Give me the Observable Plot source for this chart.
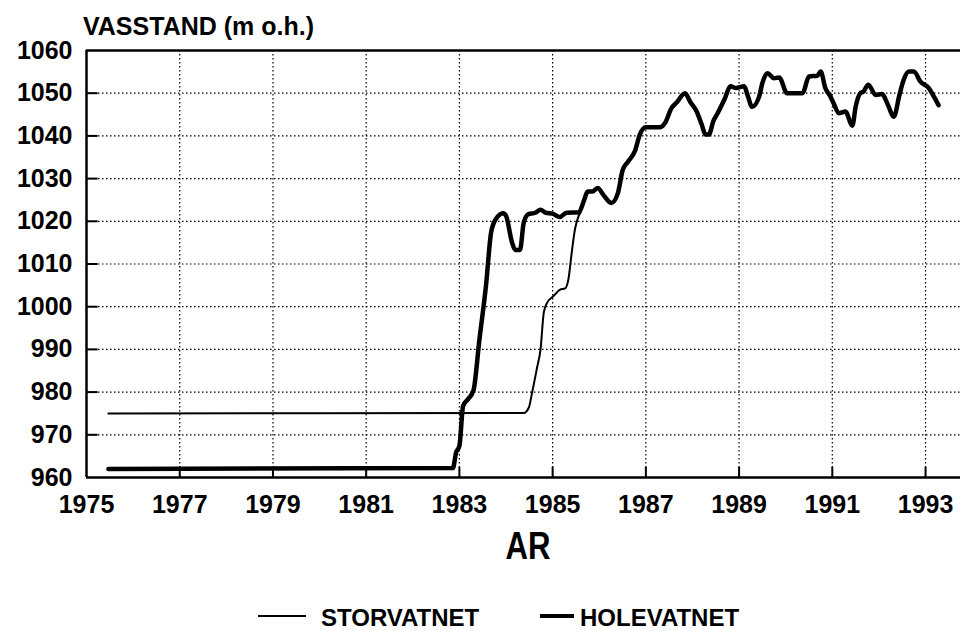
<!DOCTYPE html>
<html>
<head>
<meta charset="utf-8">
<script src="https://cdn.jsdelivr.net/npm/d3@7"></script>
<script src="https://cdn.jsdelivr.net/npm/@observablehq/plot@0.6"></script>
<style>
  html, body { margin: 0; padding: 0; background: #fff; }
  #wrap { position: relative; width: 960px; height: 631px; overflow: hidden; font-family: "Liberation Sans", Arial, sans-serif; font-weight: bold; color: #000; }
  #title { position: relative; height: 40px; }
  #title span { position: absolute; left: 83px; top: 14px; font-size: 25px; line-height: 1; white-space: nowrap; }
  #chart { height: 485px; }
  #xlabel { position: relative; height: 50px; }
  #xlabel span { position: absolute; left: 528px; top: 2px; font-size: 38px; line-height: 1; transform: translateX(-50%) scaleX(0.82); white-space: nowrap; }
  #legend { position: relative; height: 56px; }
  #legend .sw { position: absolute; background: #000; }
  #legend .lab { position: absolute; top: 34px; font-size: 24px; line-height: 18px; white-space: nowrap; }
</style>
</head>
<body>
<div id="wrap">
  <div id="title"><span id="titleText"></span></div>
  <div id="chart"></div>
  <div id="xlabel"><span id="xlabelText"></span></div>
  <div id="legend"></div>
</div>
<script>
// ---- Text ----
const titleText = "VASSTAND (m o.h.)";
const xLabelText = "AR";
const seriesNames = ["STORVATNET", "HOLEVATNET"];

// ---- Scales / ticks ----
const xDomain = [1975, 1993.75];
const yDomain = [960, 1060];
const xTickYears = [1975, 1977, 1979, 1981, 1983, 1985, 1987, 1989, 1991, 1993];
const xGridYears = [1977, 1979, 1981, 1983, 1985, 1987, 1989, 1991, 1993];
const yTickValues = [960, 970, 980, 990, 1000, 1010, 1020, 1030, 1040, 1050, 1060];
const yGridValues = [970, 980, 990, 1000, 1010, 1020, 1030, 1040, 1050];

// ---- Storvatnet (thin line) ----
const storYears  = [1975.47, 1984.38, 1984.49, 1984.56, 1984.66, 1984.74, 1984.81, 1984.88, 1985.02, 1985.16, 1985.27, 1985.34, 1985.41, 1985.48, 1985.56, 1985.6];
const storLevels = [975.0,   975.1,   976.4,   979.9,   985.4,   990.0,   998.6,   1000.9,  1002.5,  1004.0,  1004.3,  1006.5,  1012.7,  1018.2,  1021.3,  1022.1];

// ---- Holevatnet (thick line) ----
const holeYears = [1975.47, 1982.86, 1982.93, 1983.0, 1983.08, 1983.18, 1983.3, 1983.43, 1983.57, 1983.68, 1983.78, 1983.94, 1984.0, 1984.13, 1984.2, 1984.3, 1984.38, 1984.48, 1984.63, 1984.74, 1984.85, 1985.0, 1985.15, 1985.3, 1985.56, 1985.68, 1985.75, 1985.86, 1985.97, 1986.08, 1986.26, 1986.4, 1986.5, 1986.62, 1986.77, 1986.87, 1987.0, 1987.3, 1987.41, 1987.55, 1987.66, 1987.84, 1987.95, 1988.09, 1988.2, 1988.28, 1988.35, 1988.45, 1988.54, 1988.68, 1988.82, 1988.93, 1989.11, 1989.18, 1989.28, 1989.43, 1989.5, 1989.61, 1989.75, 1989.86, 1990.03, 1990.36, 1990.5, 1990.68, 1990.75, 1990.85, 1990.96, 1991.03, 1991.14, 1991.28, 1991.43, 1991.5, 1991.6, 1991.67, 1991.77, 1991.93, 1992.07, 1992.18, 1992.32, 1992.44, 1992.53, 1992.64, 1992.75, 1992.89, 1993.07, 1993.18, 1993.28];
const holeLevels = [962.0, 962.2, 965.9, 967.4, 976.8, 978.3, 980.3, 992.4, 1004.9, 1017.4, 1020.5, 1021.9, 1021.3, 1015.0, 1013.3, 1013.3, 1019.7, 1021.7, 1022.0, 1022.7, 1022.0, 1021.8, 1021.0, 1022.0, 1022.1, 1025.1, 1027.0, 1027.0, 1027.8, 1026.3, 1024.3, 1026.6, 1031.9, 1034.0, 1036.6, 1040.3, 1042.0, 1042.0, 1043.0, 1046.5, 1047.8, 1050.0, 1048.0, 1045.7, 1042.6, 1040.3, 1040.3, 1043.5, 1045.3, 1048.4, 1051.6, 1051.2, 1051.6, 1049.6, 1046.8, 1049.2, 1052.4, 1054.7, 1053.5, 1053.7, 1050.0, 1050.0, 1053.9, 1054.1, 1055.1, 1051.2, 1049.2, 1047.6, 1045.3, 1045.7, 1042.4, 1046.8, 1050.0, 1050.4, 1052.0, 1049.6, 1049.8, 1047.6, 1044.5, 1049.6, 1053.1, 1055.1, 1055.1, 1052.7, 1051.2, 1049.2, 1047.2];

const stor = storYears.map((year, i) => ({year, level: storLevels[i]}));
const hole = holeYears.map((year, i) => ({year, level: holeLevels[i]}));

document.getElementById("titleText").textContent = titleText;
document.getElementById("xlabelText").textContent = xLabelText;

const gridStyle = {stroke: "#000", strokeOpacity: 1, strokeWidth: 1.2, strokeDasharray: "1.5,2.5"};

const chart = Plot.plot({
  width: 960,
  height: 485,
  marginTop: 10,
  marginBottom: 48,
  marginLeft: 86,
  marginRight: 0,
  style: {fontFamily: "Liberation Sans, Arial, sans-serif", fontWeight: "bold", fontSize: "25px", color: "#000", background: "#fff", overflow: "visible"},
  x: {domain: xDomain},
  y: {domain: yDomain},
  marks: [
    Plot.gridX(xGridYears, gridStyle),
    Plot.gridY(yGridValues, gridStyle),
    Plot.ruleX(xGridYears, {x: d => d, y1: yDomain[0], y2: yDomain[0] + 2.4, stroke: "#000", strokeWidth: 2}),
    Plot.ruleY(yGridValues, {y: d => d, x1: xDomain[0], x2: xDomain[0] + 0.25, stroke: "#000", strokeWidth: 2}),
    Plot.ruleY([yDomain[0]], {stroke: "#000", strokeWidth: 2.5}),
    Plot.ruleY([yDomain[1]], {stroke: "#000", strokeWidth: 2.5}),
    Plot.ruleX([xDomain[0]], {stroke: "#000", strokeWidth: 2.5}),
    Plot.lineY(stor, {x: "year", y: "level", stroke: "#000", strokeWidth: 2, curve: "monotone-x"}),
    Plot.lineY(hole, {x: "year", y: "level", stroke: "#000", strokeWidth: 4.5, curve: "monotone-x", strokeLinejoin: "round"}),
    Plot.axisX(xTickYears, {tickSize: 0, tickPadding: 18, tickFormat: d => String(d), label: null, fontSize: 25, fontWeight: "bold", fill: "#000"}),
    Plot.axisY(yTickValues, {tickSize: 0, tickPadding: 14, tickFormat: d => String(d), label: null, fontSize: 25, fontWeight: "bold", fill: "#000"})
  ]
});
document.getElementById("chart").appendChild(chart);

// ---- Legend ----
const legend = document.getElementById("legend");
const legendItems = [
  {name: seriesNames[0], swLeft: 258, swWidth: 48, swHeight: 2, labLeft: 321},
  {name: seriesNames[1], swLeft: 540, swWidth: 34, swHeight: 4.5, labLeft: 580}
];
for (const it of legendItems) {
  const sw = document.createElement("div");
  sw.className = "sw";
  sw.style.left = it.swLeft + "px";
  sw.style.width = it.swWidth + "px";
  sw.style.height = it.swHeight + "px";
  sw.style.top = (41 - it.swHeight / 2) + "px";
  legend.appendChild(sw);
  const lab = document.createElement("span");
  lab.className = "lab";
  lab.style.left = it.labLeft + "px";
  lab.textContent = it.name;
  legend.appendChild(lab);
}
</script>
</body>
</html>
